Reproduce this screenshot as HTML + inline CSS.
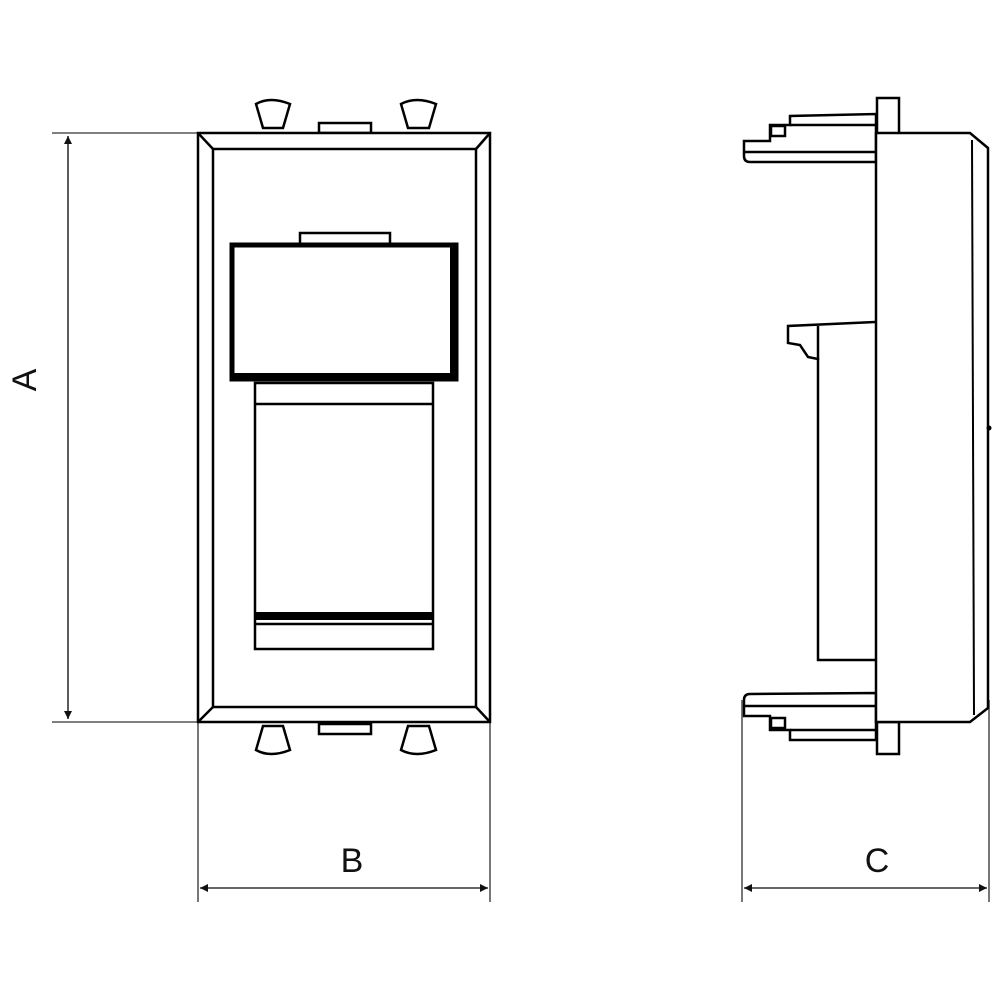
<!DOCTYPE html>
<html><head><meta charset="utf-8"><style>
html,body{margin:0;padding:0;background:#fff}
svg{display:block}
text{font-family:"Liberation Sans",sans-serif;font-size:34px;fill:#111}
</style></head><body>
<svg width="1000" height="1000" viewBox="0 0 1000 1000" xmlns="http://www.w3.org/2000/svg">
<defs>
<marker id="ar" viewBox="0 0 10 10" refX="10" refY="5" markerWidth="12" markerHeight="8" markerUnits="userSpaceOnUse" orient="auto-start-reverse"><path d="M0,0 L10,5 L0,10 z" fill="#111"/></marker>
</defs>
<g stroke="#555" stroke-width="1.6" fill="none">
<!-- A dims -->
<line x1="52" y1="133" x2="200" y2="133"/>
<line x1="52" y1="722" x2="200" y2="722"/>
<line x1="68" y1="136" x2="68" y2="719" marker-start="url(#ar)" marker-end="url(#ar)" stroke="#333"/>
<!-- B -->
<line x1="198" y1="722" x2="198" y2="902"/>
<line x1="490" y1="722" x2="490" y2="902"/>
<line x1="200" y1="888" x2="488" y2="888" marker-start="url(#ar)" marker-end="url(#ar)" stroke="#333"/>
<!-- C -->
<line x1="742" y1="700" x2="742" y2="902"/>
<line x1="989" y1="700" x2="989" y2="902"/>
<line x1="744" y1="888" x2="987" y2="888" marker-start="url(#ar)" marker-end="url(#ar)" stroke="#333"/>
</g>
<text x="48" y="392" transform="rotate(-90 36 392)" text-anchor="middle">A</text>
<text x="352" y="872" text-anchor="middle">B</text>
<text x="877" y="872" text-anchor="middle">C</text>

<!-- front view -->
<g stroke="#000" stroke-width="2.5" fill="#fff">
<!-- knobs -->
<path d="M256,104 Q270,96 290,104 L283,128 L263,128 Z"/>
<path d="M401,104 Q416,96 436,104 L429,128 L408,128 Z"/>
<rect x="319" y="123" width="52" height="10"/>
<path d="M263,726 L283,726 L290,750 Q270,758 256,750 Z"/>
<path d="M408,726 L429,726 L436,750 Q416,758 401,750 Z"/>
<rect x="319" y="724" width="52" height="10"/>
<rect x="198" y="133" width="292" height="589"/>
<rect x="213" y="149" width="263" height="558"/>
<line x1="198" y1="133" x2="213" y2="149"/>
<line x1="490" y1="133" x2="476" y2="149"/>
<line x1="198" y1="722" x2="213" y2="707"/>
<line x1="490" y1="722" x2="476" y2="707"/>
<!-- upper window -->
<rect x="300" y="233" width="90" height="12"/>
<rect x="232" y="245" width="224" height="134" stroke-width="5"/>
<rect x="450" y="245" width="8" height="134" fill="#000" stroke="none"/>
<rect x="232" y="373" width="226" height="8" fill="#000" stroke="none"/>
<!-- lower slot -->
<rect x="255" y="383" width="178" height="266"/>
<line x1="255" y1="404" x2="433" y2="404"/>
<rect x="255" y="612" width="178" height="8" fill="#000" stroke="none"/>
<line x1="255" y1="624" x2="433" y2="624"/>
</g>

<!-- side view -->
<g stroke="#000" stroke-width="2.5" fill="#fff">
<!-- top clip -->
<rect x="877" y="98" width="22" height="36"/>
<path d="M744,141 L770,141 L770,125 L790,125 L790,116 L876,114 L876,162 L750,162 Q744,162 744,156 Z"/>
<line x1="744" y1="152" x2="876" y2="152"/>
<line x1="790" y1="125" x2="876" y2="125"/>
<rect x="771" y="126" width="14" height="10"/>
<!-- bottom clip -->
<rect x="877" y="722" width="22" height="32"/>
<path d="M744,700 Q744,694 750,694 L876,693 L876,740 L790,740 L790,730 L770,730 L770,716 L744,716 Z"/>
<line x1="744" y1="706" x2="876" y2="706"/>
<line x1="790" y1="730" x2="876" y2="730"/>
<rect x="771" y="718" width="14" height="10"/>
<!-- body -->
<path d="M876,133 L970,133 L988,148 L988,708 L970,722 L876,722 Z"/>
<line x1="972" y1="140" x2="974" y2="715" stroke-width="2"/>
<!-- back block -->
<path d="M875,322 L788,326 L788,343 L800,345 L808,357 L818,359 L818,660 L875,660" fill="none"/>
<line x1="818" y1="326" x2="818" y2="360"/>
</g>
<circle cx="989" cy="428" r="2.5" fill="#000"/>
</svg>
</body></html>
